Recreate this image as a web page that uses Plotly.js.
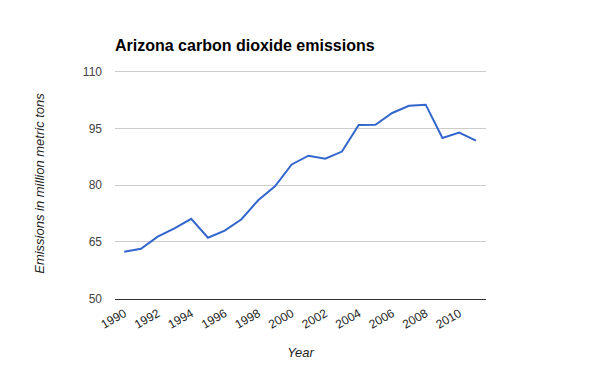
<!DOCTYPE html>
<html>
<head>
<meta charset="utf-8">
<script src="https://cdn.plot.ly/plotly-3.0.1.min.js"></script>
<style>html,body{margin:0;padding:0;background:#fff}#chart{width:600px;height:371px}</style>
</head>
<body>
<div id="chart"></div>
<script>
const years = [1990,1991,1992,1993,1994,1995,1996,1997,1998,1999,2000,2001,2002,2003,2004,2005,2006,2007,2008,2009,2010,2011];
const emissions = [62.4,63.2,66.4,68.6,71.1,66.1,68.0,71.0,76.0,79.7,85.5,87.8,87.0,88.9,95.9,96.0,99.1,101.0,101.3,92.5,93.9,91.8];
const yTicks = [50,65,80,95,110];
const chartTitle = "Arizona carbon dioxide emissions";
const xTitle = "Year";
const yTitle = "Emissions in million metric tons";

const font = "Arial, 'Liberation Sans', sans-serif";
Plotly.newPlot('chart', [{
  x: years, y: emissions, type: 'scatter', mode: 'lines',
  line: {color: '#3366cc', width: 2}, hoverinfo: 'x+y'
}], {
  width: 600, height: 371,
  margin: {l: 115, r: 114, t: 67.8, b: 71.6, pad: 0},
  paper_bgcolor: '#fff', plot_bgcolor: '#fff',
  showlegend: false,
  font: {family: font, color: '#444', size: 12},
  title: {text: chartTitle, font: {family: font, size: 16, color: '#000', weight: 'bold'},
          xref: 'container', x: 115/600, xanchor: 'left', yref: 'container', y: 1 - 45/371, yanchor: 'middle'},
  xaxis: {
    range: [1989.45, 2011.6], tickmode: 'array', tickvals: years.filter(y => (y - 1990) % 2 === 0),
    ticktext: years.filter(y => (y - 1990) % 2 === 0).map(String),
    tickangle: -30, showgrid: false, zeroline: false, showline: true, linecolor: '#333', linewidth: 1,
    ticks: '', tickfont: {size: 12, color: '#222'}, ticklabelstandoff: 2, automargin: false,
    title: {text: xTitle, font: {size: 13, color: '#222', style: 'italic'}, standoff: 17}
  },
  yaxis: {
    range: [49.9, 111], tickmode: 'array', tickvals: yTicks, ticktext: yTicks.map(String),
    showgrid: true, gridcolor: '#cccccc', gridwidth: 1, zeroline: false, showline: false,
    ticks: '', tickfont: {size: 12, color: '#444'}, ticklabelstandoff: 12, automargin: false,
    title: {text: yTitle, font: {size: 13, color: '#222', style: 'italic'}, standoff: 35}
  }
}, {displayModeBar: false, staticPlot: false});
</script>
</body>
</html>
